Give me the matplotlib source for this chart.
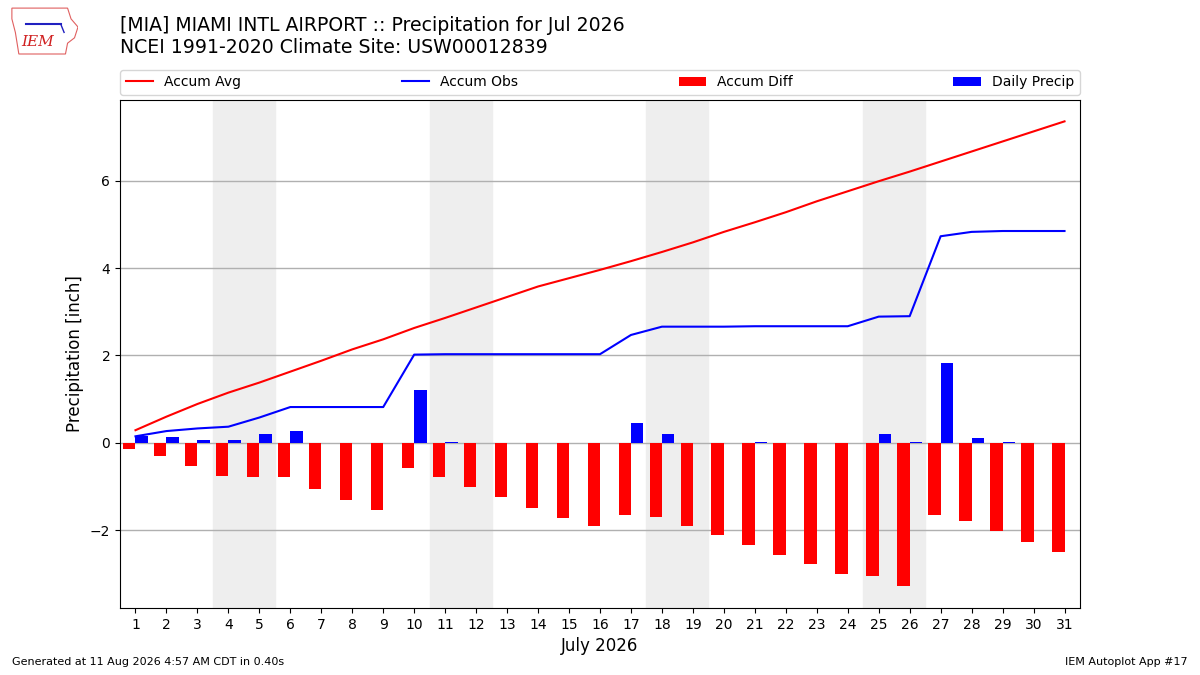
import datetime
import numpy as np
import matplotlib
matplotlib.use("Agg")
import matplotlib.pyplot as plt
from matplotlib.patches import Polygon

# jours de juillet 2026
days = np.arange(1, 32)

# valeurs (pouces)
accum_avg = [0.29, 0.60, 0.89, 1.15, 1.38, 1.63, 1.88, 2.14, 2.37, 2.63,
             2.86, 3.10, 3.34, 3.58, 3.77, 3.96, 4.16, 4.37, 4.59, 4.83,
             5.05, 5.28, 5.53, 5.76, 5.99, 6.21, 6.44, 6.67, 6.90, 7.13, 7.36]
accum_obs = [0.15, 0.27, 0.33, 0.37, 0.58, 0.82, 0.82, 0.82, 0.82, 2.02,
             2.03, 2.03, 2.03, 2.03, 2.03, 2.03, 2.47, 2.66, 2.66, 2.66,
             2.67, 2.67, 2.67, 2.67, 2.89, 2.90, 4.73, 4.83, 4.85, 4.85, 4.85]
accum_diff = [-0.14, -0.31, -0.52, -0.75, -0.79, -0.79, -1.05, -1.30, -1.53, -0.57,
              -0.79, -1.02, -1.25, -1.50, -1.71, -1.91, -1.66, -1.69, -1.91, -2.12,
              -2.33, -2.56, -2.78, -3.01, -3.04, -3.27, -1.66, -1.78, -2.01, -2.26, -2.49]
daily_precip = [0.15, 0.13, 0.07, 0.07, 0.21, 0.27, 0.0, 0.0, 0.0, 1.21,
                0.01, 0.0, 0.0, 0.0, 0.0, 0.0, 0.46, 0.21, 0.0, 0.0,
                0.01, 0.0, 0.0, 0.0, 0.21, 0.01, 1.83, 0.11, 0.01, 0.0, 0.0]

fig = plt.figure(figsize=(12, 6.75), dpi=100)
ax = fig.add_axes([0.1, 0.0993, 0.8, 0.7526])

# week-ends en gris
for d in days:
    if datetime.date(2026, 7, int(d)).weekday() == 5:
        ax.axvspan(d - 0.5, d + 1.5, color="#eeeeee", zorder=0)

l1, = ax.plot(days, accum_avg, color="r", lw=1.5, label="Accum Avg", zorder=3)
l2, = ax.plot(days, accum_obs, color="b", lw=1.5, label="Accum Obs", zorder=3)
b1 = ax.bar(days, accum_diff, width=-0.4, align="edge", color="r", label="Accum Diff", zorder=2)
b2 = ax.bar(days, daily_precip, width=0.4, align="edge", color="b", label="Daily Precip", zorder=2)

ax.set_xlim(0.5, 31.5)
ax.set_ylim(-3.78, 7.85)
ax.set_xticks(days)
ax.set_yticks([-2, 0, 2, 4, 6])
ax.tick_params(labelsize=10)
ax.grid(axis="y", color="#b0b0b0", lw=1, zorder=1)
ax.set_axisbelow(True)
ax.set_xlabel("July 2026", fontsize=12)
ax.set_ylabel("Precipitation [inch]", fontsize=12)

ax.legend(handles=[l1, l2, b1, b2], loc="lower left", bbox_to_anchor=(0, 1.01, 1, 0.05),
          mode="expand", ncol=4, borderaxespad=0, fontsize=10)

fig.text(0.1, 0.977, "[MIA] MIAMI INTL AIRPORT :: Precipitation for Jul 2026\n"
         "NCEI 1991-2020 Climate Site: USW00012839", fontsize=13.6, va="top", ha="left",
         linespacing=1.25)

fig.text(0.01, 0.015, "Generated at 11 Aug 2026 4:57 AM CDT in 0.40s", fontsize=8)
fig.text(0.99, 0.015, "IEM Autoplot App #17", fontsize=8, ha="right")

# petit logo IEM
lax = fig.add_axes([0.007, 0.912, 0.058, 0.08])
lax.set_xlim(0, 1)
lax.set_ylim(0, 1)
lax.axis("off")
iowa = [(0.05, 0.95), (0.85, 0.95), (0.9, 0.75), (1.0, 0.6), (0.95, 0.4),
        (0.85, 0.3), (0.82, 0.1), (0.15, 0.1), (0.1, 0.5), (0.05, 0.75)]
lax.add_patch(Polygon(iowa, closed=True, fill=False, edgecolor="#e06060", lw=0.8))
lax.plot([0.25, 0.75], [0.66, 0.66], color="#2020c0", lw=1.5)
lax.plot([0.75, 0.8], [0.66, 0.5], color="#2020c0", lw=1)
lax.text(0.42, 0.2, "IEM", color="#d02020", fontsize=11, family="DejaVu Serif",
         style="italic", ha="center", va="bottom")

fig.savefig("out.png", dpi=100)
